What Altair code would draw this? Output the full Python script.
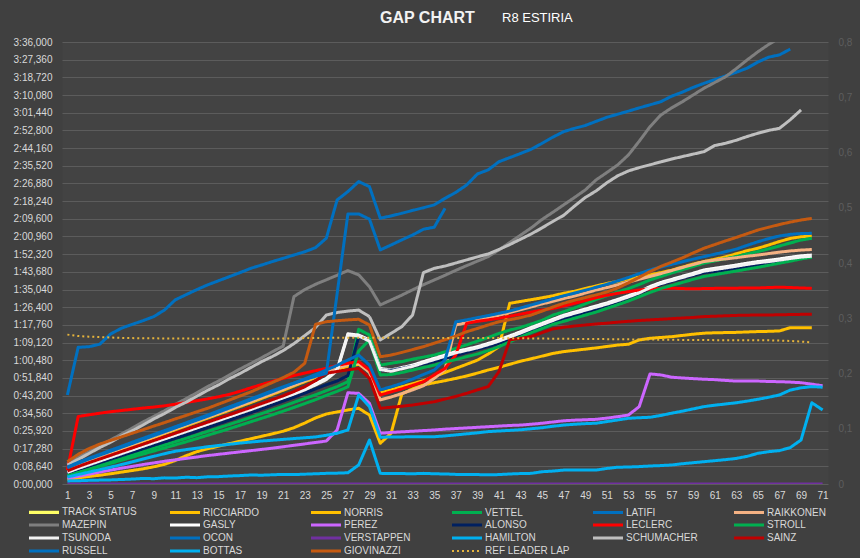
import altair as alt
import pandas as pd

LAPS = list(range(1, 72))
X_TICKS = list(range(1, 72, 2))
Y_TICKS = [0, 8.64, 17.28, 25.92, 34.56, 43.2, 51.84, 60.48, 69.12, 77.76, 86.4, 95.04,
           103.68, 112.32, 120.96, 129.6, 138.24, 146.88, 155.52, 164.16, 172.8, 181.44,
           190.08, 198.72, 207.36, 216]
R_TICKS = [0, 0.1, 0.2, 0.3, 0.4, 0.5, 0.6, 0.7, 0.8]
TITLE = "GAP CHART"
SUBTITLE = "R8 ESTIRIA"

TRACK_STATUS = [0, 0, 0, 0, 0, 0, 0, 0, 0, 0, 0, 0, 0, 0, 0, 0, 0, 0, 0, 0,
                0, 0, 0, 0, 0, 0, 0, 0, 0, 0, 0, 0, 0, 0, 0, 0, 0, 0, 0, 0,
                0, 0, 0, 0, 0, 0, 0, 0, 0, 0, 0, 0, 0, 0, 0, 0, 0, 0, 0, 0,
                0, 0, 0, 0, 0, 0, 0, 0, 0, 0, 0]

VERSTAPPEN = [0, 0, 0, 0, 0, 0, 0, 0, 0, 0, 0, 0, 0, 0, 0, 0, 0, 0, 0, 0,
              0, 0, 0, 0, 0, 0, 0, 0, 0, 0, 0, 0, 0, 0, 0, 0, 0, 0, 0, 0,
              0, 0, 0, 0, 0, 0, 0, 0, 0, 0, 0, 0, 0, 0, 0, 0, 0, 0, 0, 0,
              0, 0, 0, 0, 0, 0, 0, 0, 0, 0, 0]
HAMILTON = [1.5, 1.6, 1.8, 1.9, 2.0, 2.2, 2.4, 2.7, 2.6, 3.0,
            2.9, 3.3, 3.1, 3.5, 3.6, 3.9, 4.1, 4.4, 4.3, 4.5,
            4.7, 4.6, 4.8, 5.0, 5.2, 5.3, 5.5, 9.3, 21.5, 5.2,
            5.1, 5.1, 5.0, 5.2, 5.0, 4.9, 4.7, 4.6, 4.6, 4.5,
            4.6, 4.9, 5.1, 5.2, 6.0, 6.3, 6.8, 6.8, 6.9, 6.8,
            7.6, 8.2, 8.3, 8.5, 8.8, 9.0, 9.3, 9.9, 10.4, 10.9,
            11.4, 11.9, 12.5, 13.5, 15.0, 15.8, 16.3, 17.8, 21.5, 39.7,
            36.2]
BOTTAS = [3.4, 4.6, 5.8, 7.0, 8.2, 9.5, 10.8, 12.2, 13.5, 14.8,
          16.0, 16.8, 17.5, 18.2, 18.8, 19.4, 20.0, 20.5, 21.0, 21.4,
          21.8, 22.2, 22.6, 23.0, 23.8, 24.8, 26.4, 43.5, 37.8, 22.8,
          23.0, 23.0, 23.1, 23.1, 23.1, 23.5, 24.0, 24.5, 25.0, 25.6,
          25.9, 26.2, 26.5, 27.0, 27.5, 28.2, 28.8, 29.2, 29.5, 29.7,
          30.5, 31.3, 32.1, 32.4, 32.6, 33.5, 34.6, 35.6, 36.7, 37.8,
          38.5, 39.1, 39.7, 40.5, 41.4, 42.4, 43.5, 45.9, 47.0, 47.6,
          47.3]
PEREZ = [2.8, 3.8, 4.8, 5.8, 6.8, 7.7, 8.6, 9.5, 10.3, 11.1,
         11.8, 12.5, 13.2, 13.9, 14.5, 15.1, 15.7, 16.3, 16.9, 17.5,
         18.2, 18.9, 19.6, 20.3, 21.0, 26.4, 44.6, 44.3, 39.4, 24.8,
         25.2, 25.5, 25.8, 26.1, 26.4, 26.8, 27.1, 27.4, 27.7, 28.0,
         28.3, 28.6, 28.8, 29.2, 29.7, 30.3, 30.9, 31.2, 31.4, 31.6,
         32.2, 32.9, 33.7, 37.8, 53.8, 53.3, 52.2, 51.8, 51.5, 51.2,
         51.0, 50.6, 50.3, 50.3, 50.3, 50.1, 50.0, 49.8, 49.5, 48.8,
         48.0]
NORRIS = [2.2, 3.0, 3.7, 4.3, 5.0, 5.8, 6.6, 7.4, 8.4, 9.6,
          11.5, 13.8, 15.8, 17.2, 18.5, 19.7, 20.9, 22.1, 23.3, 24.5,
          25.8, 27.5, 29.8, 32.3, 34.2, 35.2, 36.2, 37.0, 33.7, 19.9,
          24.8, 44.0, 46.5, 48.4, 49.5, 50.5, 51.6, 52.8, 54.2, 55.7,
          57.0, 58.5, 60.0, 61.2, 62.5, 63.8, 64.7, 65.3, 65.9, 66.5,
          67.2, 67.9, 68.3, 70.4, 71.2, 71.6, 72.0, 72.6, 73.2, 73.7,
          73.9, 74.0, 74.1, 74.3, 74.5, 74.6, 74.8, 76.4, 76.4, 76.4]
LECLERC = [6.8, 33.0, 33.8, 34.6, 35.3, 35.9, 36.5, 37.1, 37.6, 38.2,
           39.0, 39.8, 40.7, 41.6, 42.6, 43.8, 45.3, 47.0, 48.6, 50.1,
           51.6, 53.0, 54.2, 55.4, 56.5, 58.0, 59.0, 59.8, 55.7, 43.5,
           45.0, 46.5, 48.2, 50.0, 53.3, 56.5, 63.0, 78.5, 79.5, 80.2,
           81.0, 82.0, 83.0, 84.0, 85.0, 85.8, 87.0, 88.3, 89.6, 91.0,
           92.2, 93.2, 94.0, 94.8, 95.4, 95.6, 95.7, 95.5, 95.4, 95.5,
           95.6, 95.6, 95.7, 95.8, 95.8, 96.0, 96.2, 96.0, 95.8, 95.6]
SAINZ = [6.4, 8.5, 10.4, 12.2, 14.0, 15.8, 17.6, 19.4, 21.2, 23.0,
         24.8, 26.6, 28.4, 30.2, 32.0, 33.8, 35.6, 37.4, 39.3, 41.2,
         43.1, 45.2, 47.5, 50.5, 54.1, 55.0, 55.8, 56.5, 51.6, 37.0,
         37.5, 38.0, 38.6, 39.4, 40.2, 41.5, 42.8, 44.3, 46.0, 47.6,
         54.9, 70.4, 71.2, 72.0, 74.0, 75.8, 76.6, 77.2, 77.7, 78.2,
         78.6, 79.1, 79.5, 79.9, 80.2, 80.5, 80.8, 81.1, 81.4, 81.8,
         82.0, 82.2, 82.4, 82.5, 82.6, 82.6, 82.7, 82.8, 82.9, 82.9]
GIOVINAZZI = [10.9, 14.5, 17.3, 19.5, 21.3, 23.0, 24.8, 26.5, 28.3, 30.0,
              31.8, 33.5, 35.3, 37.0, 39.0, 41.0, 43.0, 45.0, 47.3, 49.6,
              52.0, 54.6, 59.0, 78.0, 79.3, 79.8, 80.2, 80.5, 77.7, 62.2,
              63.0, 64.3, 65.7, 67.1, 68.8, 70.5, 72.3, 74.4, 76.0, 77.7,
              79.3, 80.3, 81.3, 82.6, 84.5, 86.5, 88.3, 89.8, 91.1, 92.4,
              93.8, 95.8, 98.3, 101.0, 103.8, 106.3, 108.4, 110.5, 112.9, 115.2,
              117.0, 118.8, 120.5, 122.3, 124.1, 125.5, 126.8, 128.0, 129.0, 129.8]
MAZEPIN = [10.0, 13.1, 15.8, 18.8, 21.5, 24.4, 27.3, 30.3, 33.0, 35.8,
           38.9, 41.7, 44.6, 47.6, 50.3, 53.2, 56.2, 58.9, 61.7, 64.6,
           67.4, 91.6, 95.0, 97.6, 99.8, 102.0, 104.3, 102.2, 96.4, 87.5,
           89.9, 92.3, 94.9, 97.4, 99.7, 102.0, 104.4, 106.7, 108.9, 111.1,
           114.4, 118.0, 121.6, 125.2, 129.3, 132.8, 136.4, 140.0, 143.7, 148.6,
           152.2, 155.9, 160.8, 167.5, 174.6, 180.3, 183.8, 186.8, 190.1, 193.4,
           196.2, 199.0, 203.0, 207.2, 211.2, 214.8, 218.0, 221.5, 224.5]
SCHUMACHER = [9.3, 12.0, 14.9, 17.8, 20.4, 23.4, 26.0, 28.8, 31.8, 34.4,
              37.4, 40.0, 42.9, 45.8, 48.4, 51.4, 54.0, 56.9, 59.8, 62.3,
              65.2, 68.6, 72.5, 76.5, 82.6, 83.8, 84.5, 85.0, 81.8, 70.4,
              73.6, 76.9, 82.6, 103.3, 105.4, 106.5, 108.0, 109.5, 111.0, 112.4,
              114.6, 117.0, 119.6, 122.2, 125.2, 128.3, 131.3, 135.8, 140.0, 143.2,
              147.2, 150.6, 153.0, 154.6, 156.0, 157.4, 158.8, 160.0, 161.2, 162.4,
              165.4, 166.5, 168.0, 169.8, 171.4, 172.8, 173.8, 178.0, 182.8]
LATIFI = [43.5, 66.8, 67.1, 68.3, 73.3, 76.1, 78.0, 79.8, 81.8, 85.0,
          90.0, 92.5, 95.0, 97.3, 99.3, 101.3, 103.3, 105.4, 107.0, 108.7,
          110.3, 111.9, 113.5, 115.5, 120.1, 138.8, 142.9, 147.8, 145.3, 129.9,
          131.0, 132.3, 133.7, 135.0, 136.4, 139.6, 142.5, 146.1, 151.5, 153.5,
          157.5, 159.5, 161.5, 163.6, 166.5, 169.5, 172.2, 173.8, 175.2, 177.2,
          179.2, 180.7, 182.2, 183.8, 185.3, 186.8, 189.5, 191.5, 193.8, 195.8,
          197.6, 199.4, 201.2, 203.2, 206.2, 208.6, 209.7, 212.5]
RUSSELL = [8.3, 10.6, 12.6, 14.5, 16.5, 18.4, 20.4, 22.3, 24.2, 26.1,
           28.0, 29.9, 31.8, 33.7, 35.7, 37.7, 39.6, 41.6, 43.6, 45.6,
           47.5, 49.3, 51.0, 52.6, 54.1, 93.0, 132.0, 132.0, 129.4, 114.4,
           116.8, 119.3, 121.7, 124.5, 125.5, 134.7]
OCON = [7.8, 10.1, 12.2, 14.1, 16.0, 17.9, 19.8, 21.7, 23.6, 25.5,
        27.4, 29.3, 31.2, 33.1, 35.1, 37.1, 39.1, 41.1, 43.1, 45.1,
        47.2, 49.3, 51.4, 53.5, 55.7, 58.0, 60.6, 63.0, 58.1, 46.0,
        47.5, 49.2, 51.3, 53.5, 55.7, 60.6, 79.3, 80.2, 81.3, 82.3,
        83.4, 84.5, 86.0, 87.5, 89.0, 90.5, 92.0, 93.3, 94.7, 96.1,
        97.6, 99.2, 100.9, 102.8, 104.6, 106.0, 107.3, 108.6, 109.9, 111.1,
        112.3, 113.5, 114.8, 116.6, 118.4, 119.9, 121.2, 122.0, 122.4, 122.5]
RAIKKONEN = [7.5, 9.7, 11.7, 13.6, 15.5, 17.4, 19.3, 21.2, 23.1, 25.0,
             26.9, 28.8, 30.7, 32.6, 34.5, 36.4, 38.3, 40.3, 42.3, 44.3,
             46.3, 48.3, 50.4, 52.5, 54.5, 56.5, 58.3, 59.0, 54.5, 41.1,
             42.5, 44.2, 46.0, 48.0, 51.6, 56.0, 77.7, 78.8, 80.0, 81.2,
             82.5, 83.8, 85.2, 86.6, 88.0, 89.3, 90.6, 91.9, 93.3, 94.8,
             96.0, 97.3, 98.7, 100.1, 101.4, 102.8, 104.3, 105.8, 107.2, 108.7,
             109.4, 110.0, 110.6, 111.3, 111.9, 112.6, 113.3, 113.9, 114.3, 114.6]
RICCIARDO = [7.0, 9.3, 11.3, 13.2, 15.1, 17.0, 18.9, 20.8, 22.7, 24.6,
             26.5, 28.4, 30.3, 32.2, 34.1, 36.0, 37.9, 39.8, 41.8, 43.8,
             45.8, 47.9, 50.0, 52.0, 54.5, 56.0, 57.5, 58.5, 55.0, 44.5,
             46.0, 47.5, 49.0, 50.5, 52.5, 54.5, 56.5, 58.5, 60.5, 63.5,
             67.1, 88.3, 89.2, 90.1, 91.0, 92.0, 93.2, 94.2, 95.5, 96.8,
             98.0, 99.0, 100.2, 101.2, 102.2, 103.3, 104.5, 106.0, 107.5, 108.7,
             109.8, 111.0, 112.5, 114.0, 115.2, 116.8, 118.5, 120.0, 120.8, 121.2]
GASLY = [6.0, 8.0, 9.9, 11.7, 13.5, 15.3, 17.1, 18.9, 20.7, 22.5,
         24.3, 26.1, 27.9, 29.7, 31.5, 33.3, 35.1, 36.9, 38.8, 40.7,
         42.6, 44.5, 46.6, 49.0, 51.6, 56.0, 73.4, 72.8, 70.4, 56.5,
         55.7, 56.9, 58.1, 59.8, 61.4, 63.0, 64.7, 65.9, 67.1, 68.7,
         70.4, 72.4, 74.4, 76.5, 78.5, 80.5, 82.5, 84.0, 85.5, 87.0,
         88.5, 90.2, 92.0, 94.0, 96.5, 98.5, 100.0, 101.5, 103.0, 104.6,
         105.4, 106.2, 107.0, 107.9, 108.7, 109.3, 110.0, 110.8, 111.5, 111.9]
TSUNODA = [5.7, 7.6, 9.4, 11.2, 13.0, 14.8, 16.6, 18.4, 20.2, 22.0,
           23.8, 25.6, 27.4, 29.2, 31.0, 32.8, 34.6, 36.4, 38.3, 40.2,
           42.1, 44.0, 46.0, 48.4, 51.0, 55.4, 72.8, 72.3, 69.8, 55.9,
           55.1, 56.3, 57.5, 59.2, 60.8, 62.4, 64.1, 65.3, 66.5, 68.1,
           69.8, 71.8, 73.8, 75.9, 77.9, 79.9, 81.9, 83.4, 84.9, 86.4,
           87.9, 89.6, 91.4, 93.4, 95.9, 97.9, 99.4, 100.9, 102.4, 104.0,
           104.8, 105.6, 106.4, 107.3, 108.1, 108.7, 109.4, 110.2, 110.9, 111.3]
ALONSO = [5.2, 7.0, 8.7, 10.4, 12.1, 13.8, 15.5, 17.2, 18.9, 20.6,
          22.3, 24.0, 25.8, 27.6, 29.4, 31.2, 33.0, 34.8, 36.7, 38.6,
          40.5, 42.4, 44.4, 46.5, 48.5, 50.3, 53.0, 72.0, 70.0, 55.7,
          55.5, 56.5, 57.5, 58.6, 59.8, 61.3, 62.8, 64.3, 65.8, 67.2,
          68.7, 70.5, 72.5, 74.5, 76.9, 79.0, 80.8, 82.3, 84.0, 85.5,
          87.2, 89.0, 91.0, 93.2, 95.5, 97.5, 99.0, 100.5, 101.9, 103.3,
          103.9, 104.6, 105.3, 106.1, 107.0, 107.8, 108.6, 109.4, 110.4, 111.1]
VETTEL = [4.6, 6.3, 7.9, 9.5, 11.1, 12.7, 14.3, 15.9, 17.5, 19.1,
          20.7, 22.3, 24.0, 25.7, 27.4, 29.1, 30.8, 32.6, 34.4, 36.2,
          38.0, 39.9, 41.8, 43.6, 45.6, 47.6, 50.0, 75.6, 72.8, 58.1,
          59.0, 59.8, 61.0, 62.0, 63.0, 64.6, 66.3, 68.0, 69.8, 71.6,
          73.6, 75.2, 76.5, 78.2, 80.0, 82.5, 84.2, 86.0, 88.0, 90.2,
          92.0, 93.8, 95.5, 97.5, 99.7, 101.4, 103.1, 104.7, 106.3, 107.9,
          109.0, 110.1, 111.2, 112.4, 113.6, 114.9, 116.3, 117.8, 119.2, 120.1]
STROLL = [4.0, 5.6, 7.1, 8.6, 10.1, 11.6, 13.1, 14.6, 16.1, 17.6,
          19.1, 20.6, 22.2, 23.8, 25.4, 27.0, 28.7, 30.4, 32.1, 33.8,
          35.6, 37.4, 39.3, 41.2, 43.3, 45.3, 47.5, 65.0, 70.4, 53.3,
          53.5, 54.5, 55.7, 56.9, 58.1, 59.5, 60.8, 62.2, 63.5, 65.2,
          67.1, 69.5, 71.8, 74.0, 76.0, 78.0, 79.5, 81.0, 82.5, 84.0,
          85.8, 87.6, 89.4, 91.5, 93.6, 95.5, 97.0, 98.5, 100.0, 101.4,
          102.3, 103.2, 104.1, 105.0, 105.9, 106.9, 107.9, 108.9, 110.0, 110.8]
REF_LEADER_LAP = [73.0, 72.3, 72.0, 71.8, 71.6, 71.4, 71.3, 71.2, 71.2, 71.1,
                  71.1, 71.1, 71.0, 71.0, 71.0, 71.0, 71.0, 71.0, 71.0, 71.0,
                  71.1, 71.2, 71.3, 71.4, 71.4, 71.5, 71.5, 71.5, 71.5, 71.5,
                  71.5, 71.5, 71.5, 71.4, 71.4, 71.4, 71.4, 71.4, 71.3, 71.3,
                  71.3, 71.2, 71.2, 71.1, 71.1, 71.0, 71.0, 70.9, 70.9, 70.8,
                  70.8, 70.7, 70.7, 70.6, 70.6, 70.5, 70.5, 70.4, 70.4, 70.4,
                  70.3, 70.3, 70.3, 70.3, 70.2, 70.2, 70.1, 69.9, 69.6, 69.2]

SERIES = ["TRACK STATUS", "RICCIARDO", "NORRIS", "VETTEL", "LATIFI", "RAIKKONEN",
          "MAZEPIN", "GASLY", "PEREZ", "ALONSO", "LECLERC", "STROLL",
          "TSUNODA", "OCON", "VERSTAPPEN", "HAMILTON", "SCHUMACHER", "SAINZ",
          "RUSSELL", "BOTTAS", "GIOVINAZZI", "REF LEADER LAP"]
COLORS = ["#ffff66", "#ffc000", "#ffc000", "#00b050", "#0070c0", "#f4b183",
          "#7f7f7f", "#ffffff", "#cc66ff", "#002060", "#ff0000", "#00b050",
          "#f2f2f2", "#0070c0", "#7030a0", "#00b0f0", "#bfbfbf", "#c00000",
          "#0070c0", "#00b0f0", "#c55a11", "#e6b43c"]
WIDTHS = [3.2, 3, 3, 3, 3, 3, 3, 3, 3, 3, 3, 3, 3, 3, 3, 3, 3, 3, 3, 3, 3, 2]
DASHES = [[1, 0]] * 21 + [[2, 3]]

GAPS = {"RICCIARDO": RICCIARDO, "NORRIS": NORRIS, "VETTEL": VETTEL, "LATIFI": LATIFI,
        "RAIKKONEN": RAIKKONEN, "MAZEPIN": MAZEPIN, "GASLY": GASLY, "PEREZ": PEREZ,
        "ALONSO": ALONSO, "LECLERC": LECLERC, "STROLL": STROLL, "TSUNODA": TSUNODA,
        "OCON": OCON, "VERSTAPPEN": VERSTAPPEN, "HAMILTON": HAMILTON,
        "SCHUMACHER": SCHUMACHER, "SAINZ": SAINZ, "RUSSELL": RUSSELL, "BOTTAS": BOTTAS,
        "GIOVINAZZI": GIOVINAZZI, "REF LEADER LAP": REF_LEADER_LAP}

rows = []
for name in SERIES:
    if name in GAPS:
        for lap, v in zip(LAPS, GAPS[name]):
            rows.append({"series": name, "lap": lap, "gap": v})
df = pd.DataFrame(rows)
status_df = pd.DataFrame({"lap": LAPS, "status": TRACK_STATUS})
title_df = pd.DataFrame({"t": [TITLE]})
sub_df = pd.DataFrame({"t": [SUBTITLE]})

legend = alt.Legend(orient="none", legendX=-23, legendY=465, columns=6, direction="horizontal",
                    gridAlign="all", columnPadding=17, rowPadding=0,
                    symbolType="M-5,0H5", symbolSize=36,
                    labelOffset=13, labelFontSize=10, labelFont="Liberation Sans",
                    labelColor="#d9d9d9", padding=0)

x_scale = alt.Scale(domain=[0.5, 71.5], nice=False, zero=False)
x_axis = alt.Axis(values=X_TICKS, title=None, grid=False, ticks=False, domain=False,
                  labelPadding=6, labelColor="#d9d9d9", labelFontSize=10,
                  labelOverlap=False, labelFlush=False, labelBound=False)

lines = alt.Chart(df).mark_line(clip=True, strokeJoin="round").encode(
    x=alt.X("lap:Q", scale=x_scale, axis=x_axis),
    y=alt.Y("gap:Q", scale=alt.Scale(domain=[0, 216], nice=False),
            axis=alt.Axis(values=Y_TICKS, title=None, grid=True, gridColor="#5c5c5c",
                          gridWidth=1, ticks=False, domain=False, labelPadding=10,
                          labelColor="#d9d9d9", labelFontSize=10,
                          labelExpr="floor(datum.value / 60) + ':' + replace(format(datum.value % 60, '06.3f'), '.', ',')")),
    color=alt.Color("series:N", scale=alt.Scale(domain=SERIES, range=COLORS), legend=legend, title=None),
    strokeWidth=alt.StrokeWidth("series:N", scale=alt.Scale(type="ordinal", domain=SERIES, range=WIDTHS),
                                legend=legend, title=None),
    strokeDash=alt.StrokeDash("series:N", scale=alt.Scale(domain=SERIES, range=DASHES),
                              legend=legend, title=None),
)

status = alt.Chart(status_df).mark_line(color="#ffff66", opacity=0).encode(
    x=alt.X("lap:Q", scale=x_scale, axis=x_axis),
    y=alt.Y("status:Q", scale=alt.Scale(domain=[0, 0.8], nice=False),
            axis=alt.Axis(orient="right", values=R_TICKS, title=None, grid=False, ticks=False,
                          domain=False, labelPadding=10, labelColor="#5e5e5e", labelFontSize=10,
                          labelExpr="replace(format(datum.value, '.1~f'), '.', ',')")),
)

title_text = alt.Chart(title_df).mark_text(align="left", baseline="middle", font="Liberation Sans",
                                           fontSize=16, fontWeight="bold", color="#f2f2f2").encode(
    text="t:N", x=alt.value(318), y=alt.value(-24))

subtitle_text = alt.Chart(sub_df).mark_text(align="left", baseline="middle", font="Liberation Sans",
                                            fontSize=13, color="#ffffff").encode(
    text="t:N", x=alt.value(440), y=alt.value(-24))

chart = alt.layer(lines, status, title_text, subtitle_text).resolve_scale(y="independent").properties(
    width=766, height=442, autosize="none",
    padding={"left": 62, "top": 42, "right": 32, "bottom": 74},
    background="#404040",
).configure_view(
    stroke="transparent", fill="#434343",
).configure_axis(labelFont="Liberation Sans").configure_axisX(labelOverlap=False)

chart.save("out.html", embed_options={"renderer": "svg", "actions": False})
